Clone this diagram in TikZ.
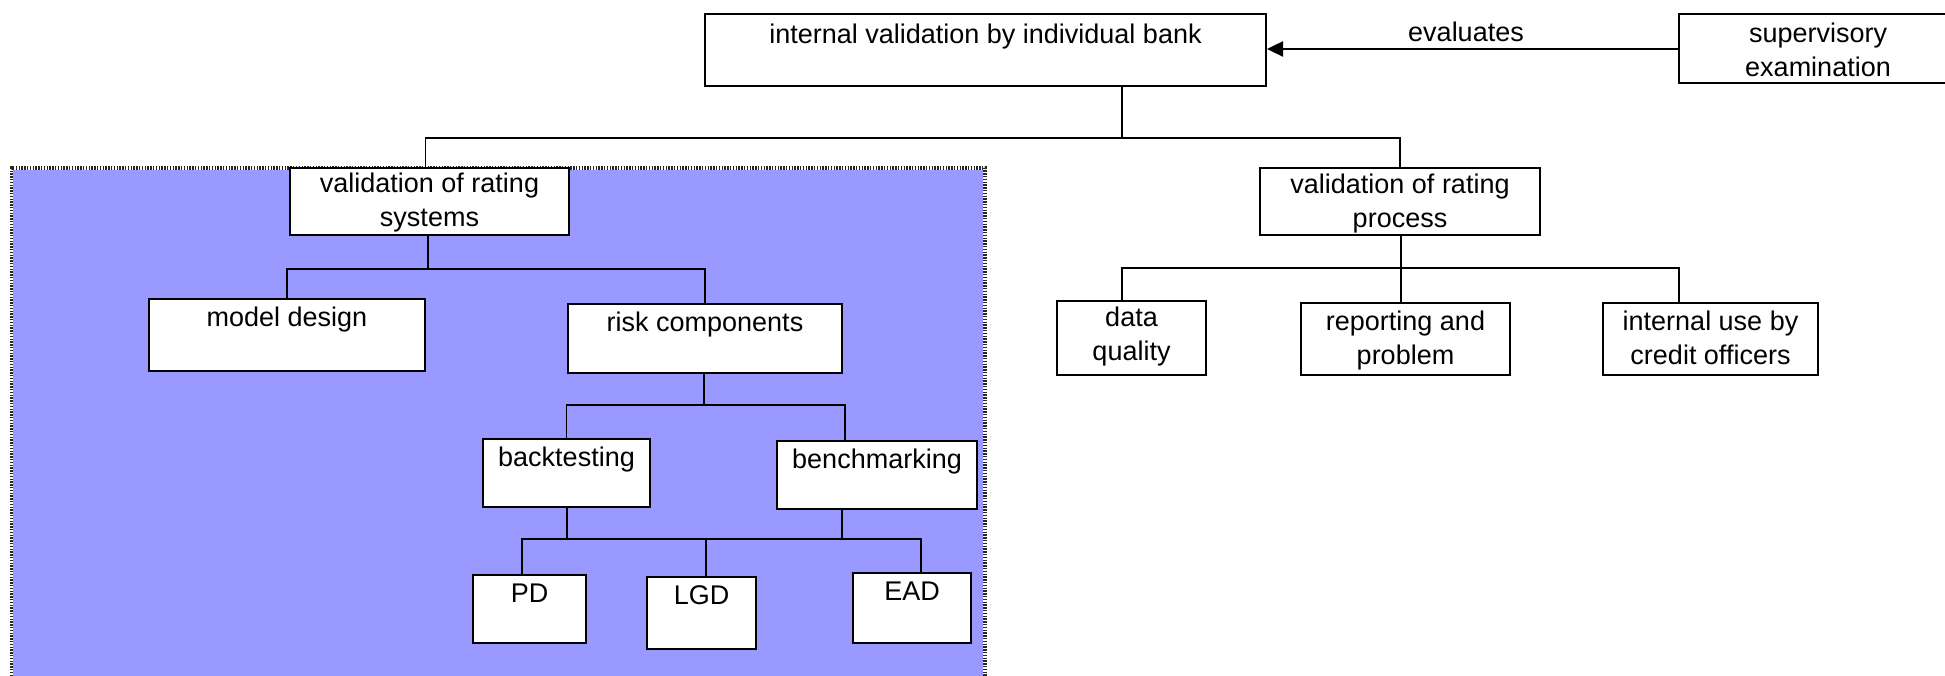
\documentclass[tikz,border=0pt]{standalone}
\usepackage{fontspec}
\setmainfont{Liberation Sans}
\usetikzlibrary{arrows.meta}
\definecolor{bluebg}{RGB}{153,153,255}
\newcommand\boxtext[3]{\parbox[c][#2][t]{#1}{\centering\rule{0pt}{27pt}#3\par}}
\begin{document}
\begin{tikzpicture}[x=1pt,y=-1pt,
  box/.style={draw, line width=2pt, fill=white, inner sep=0pt, rectangle, font=\fontsize{27}{34}\selectfont},
  conn/.style={line width=1.8pt},
  arr/.style={line width=2.5pt, -{Triangle[length=16pt,width=15pt]}},
  lbl/.style={inner sep=0pt, font=\fontsize{27}{34}\selectfont},
  regionborder/.style={line width=3.5pt}]
\useasboundingbox (0,0) rectangle (1945,676);
\clip (0,0) rectangle (1945,676);
% shaded region
\fill[bluebg] (11.5,168) rectangle (985,690);
\draw[regionborder, white] (11.5,690) -- (11.5,168) -- (985,168) -- (985,690);
\draw[regionborder, black!85, dash pattern=on 1.4pt off 1.4pt] (11.5,690) -- (11.5,168) -- (985,168) -- (985,690);
% boxes
\node[box] (T) at (985.5,50) {\parbox[c][72pt][t]{561pt}{\centering\rule{0pt}{30pt}internal validation by individual bank\par}};
\node[box] (S) at (1818,48.5) {\parbox[c][69pt][t]{278pt}{\centering\rule{0pt}{29pt}supervisory\\examination\par}};
\node[box] (VRS) at (429.5,201.5) {\parbox[c][67pt][t]{279pt}{\centering\rule{0pt}{25pt}validation of rating\\systems\par}};
\node[box] (VRP) at (1400,201.5) {\parbox[c][67pt][t]{280pt}{\centering\rule{0pt}{26pt}validation of rating\\process\par}};
\node[box] (MD) at (287,335) {\boxtext{276pt}{72pt}{model design}};
\node[box] (RC) at (705,338.5) {\boxtext{274pt}{69pt}{risk components}};
\node[box] (BT) at (566.5,473) {\boxtext{167pt}{68pt}{backtesting}};
\node[box] (BM) at (877,475) {\boxtext{200pt}{68pt}{benchmarking}};
\node[box] (PD) at (529.5,609) {\boxtext{113pt}{68pt}{PD}};
\node[box] (LGD) at (701.5,613) {\boxtext{109pt}{72pt}{LGD}};
\node[box] (EAD) at (912,608) {\boxtext{118pt}{70pt}{EAD}};
\node[box] (DQ) at (1131.5,338) {\parbox[c][74pt][t]{149pt}{\centering\rule{0pt}{25pt}data\\quality\par}};
\node[box] (RP) at (1405.5,339) {\boxtext{209pt}{72pt}{reporting and\\problem}};
\node[box] (IU) at (1710.5,339) {\boxtext{215pt}{72pt}{internal use by\\credit officers}};
% bus coordinates
\coordinate (b1) at (1122,138);
\coordinate (b2) at (428,269);
\coordinate (b3) at (704,405);
\coordinate (b4) at (567,539);
\coordinate (b5) at (1401,268);
% connectors
\draw[conn] (T.south -| b1) -- (b1);
\draw[conn] ([xshift=-4pt]VRS.north) |- (b1) -| (VRP.north);
\draw[conn] (VRS.south -| b2) -- (b2);
\draw[conn] (MD.north) |- (b2) -| (RC.north);
\draw[conn] (RC.south -| b3) -- (b3);
\draw[conn] (BT.north) |- (b3) -| ([xshift=-32pt]BM.north);
\draw[conn] (BT.south -| b4) -- (b4);
\draw[conn] ([xshift=-35pt]BM.south) -- ([xshift=-35pt]BM.south |- b4);
\draw[conn] ([xshift=-7.5pt]PD.north) |- ([xshift=9pt]EAD.north |- b4) -- ([xshift=9pt]EAD.north);
\draw[conn] ([xshift=4.5pt]LGD.north) -- ([xshift=4.5pt]LGD.north |- b4);
\draw[conn] (VRP.south -| b5) -- (b5);
\draw[conn] ([xshift=-9.5pt]DQ.north) |- (b5) -| ([xshift=-31.5pt]IU.north);
\draw[conn] ([xshift=-4.5pt]RP.north) -- ([xshift=-4.5pt]RP.north |- b5);
% arrow
\draw[arr] (S.west |- 0,49) -- (T.east |- 0,49) node[lbl, midway, above=6pt, xshift=-6.5pt] (ev) {evaluates};
\end{tikzpicture}
\end{document}
